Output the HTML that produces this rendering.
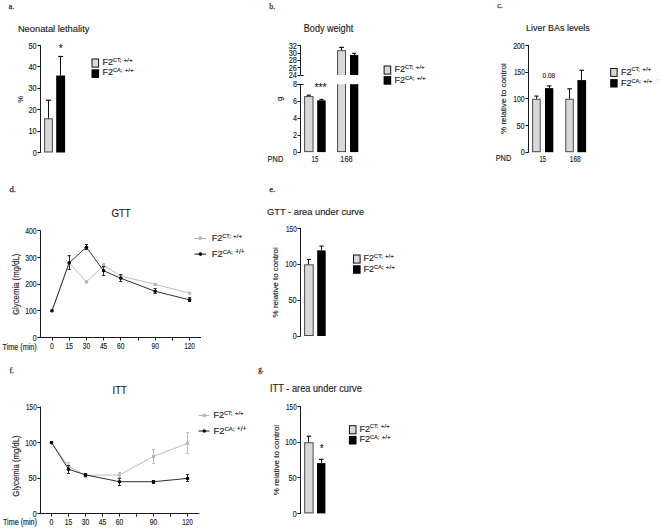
<!DOCTYPE html>
<html><head><meta charset="utf-8"><style>
html,body{margin:0;padding:0;background:#fff;}
svg{display:block;font-family:"Liberation Sans",sans-serif;}
text{stroke:#1e1e1e;stroke-width:0.15px;}
</style></head><body>
<svg width="660" height="529" viewBox="0 0 660 529" fill="#1e1e1e">
<rect width="660" height="529" fill="#fff"/>
<text x="8.80" y="8.60" font-size="9.0" textLength="5.5" lengthAdjust="spacingAndGlyphs" font-family="Liberation Serif" style="stroke-width:0.25px">a.</text>
<text x="17.90" y="31.80" font-size="9.6" textLength="71.5" lengthAdjust="spacingAndGlyphs" >Neonatal lethality</text>
<line x1="40.50" y1="45.10" x2="40.50" y2="153.00" stroke="#1a1a1a" stroke-width="1"/>
<line x1="37.30" y1="152.50" x2="40.50" y2="152.50" stroke="#1a1a1a" stroke-width="1"/>
<text x="36.70" y="155.60" font-size="8.6" text-anchor="end" textLength="4.0" lengthAdjust="spacingAndGlyphs" >0</text>
<line x1="37.30" y1="131.50" x2="40.50" y2="131.50" stroke="#1a1a1a" stroke-width="1"/>
<text x="36.70" y="134.22" font-size="8.6" text-anchor="end" textLength="8.2" lengthAdjust="spacingAndGlyphs" >10</text>
<line x1="37.30" y1="109.50" x2="40.50" y2="109.50" stroke="#1a1a1a" stroke-width="1"/>
<text x="36.70" y="112.84" font-size="8.6" text-anchor="end" textLength="8.2" lengthAdjust="spacingAndGlyphs" >20</text>
<line x1="37.30" y1="88.50" x2="40.50" y2="88.50" stroke="#1a1a1a" stroke-width="1"/>
<text x="36.70" y="91.46" font-size="8.6" text-anchor="end" textLength="8.2" lengthAdjust="spacingAndGlyphs" >30</text>
<line x1="37.30" y1="66.50" x2="40.50" y2="66.50" stroke="#1a1a1a" stroke-width="1"/>
<text x="36.70" y="70.08" font-size="8.6" text-anchor="end" textLength="8.2" lengthAdjust="spacingAndGlyphs" >40</text>
<line x1="37.30" y1="45.50" x2="40.50" y2="45.50" stroke="#1a1a1a" stroke-width="1"/>
<text x="36.70" y="48.70" font-size="8.6" text-anchor="end" textLength="8.2" lengthAdjust="spacingAndGlyphs" >50</text>
<rect x="44.60" y="118.79" width="7.80" height="33.21" fill="#d9d9d9" stroke="#4a4a4a" stroke-width="1"/>
<line x1="48.50" y1="100.20" x2="48.50" y2="118.29" stroke="#111" stroke-width="1"/>
<line x1="46.00" y1="100.20" x2="51.00" y2="100.20" stroke="#111" stroke-width="1.2"/>
<rect x="56.20" y="75.53" width="8.90" height="76.97" fill="#000"/>
<line x1="60.50" y1="56.50" x2="60.50" y2="75.53" stroke="#111" stroke-width="1"/>
<line x1="58.15" y1="56.50" x2="63.15" y2="56.50" stroke="#111" stroke-width="1.2"/>
<text x="60.60" y="51.50" font-size="10" text-anchor="middle" >*</text>
<text x="22.60" y="99.50" font-size="7.5" text-anchor="middle" transform="rotate(-90 22.60 99.50)" >%</text>
<rect x="92.00" y="59.00" width="6.60" height="8.10" fill="#d9d9d9" stroke="#111" stroke-width="1"/>
<rect x="91.50" y="69.30" width="7.60" height="8.60" fill="#000"/>
<text x="102.40" y="64.90" font-size="9.0">F2<tspan dy="-3.2" font-size="5.6">CT;</tspan><tspan dx="2.4" font-size="6.16">+/+</tspan></text>
<text x="102.40" y="75.40" font-size="9.0">F2<tspan dy="-3.2" font-size="5.6">CA;</tspan><tspan dx="2.4" font-size="6.16">+/+</tspan></text>
<text x="269.20" y="8.60" font-size="9.0" textLength="6.0" lengthAdjust="spacingAndGlyphs" font-family="Liberation Serif" style="stroke-width:0.25px">b.</text>
<text x="303.80" y="31.80" font-size="10.2" textLength="49.4" lengthAdjust="spacingAndGlyphs" >Body weight</text>
<line x1="300.50" y1="45.20" x2="300.50" y2="75.00" stroke="#1a1a1a" stroke-width="1"/>
<line x1="297.50" y1="75.50" x2="300.50" y2="75.50" stroke="#1a1a1a" stroke-width="1"/>
<text x="296.90" y="78.00" font-size="8.6" text-anchor="end" textLength="8.2" lengthAdjust="spacingAndGlyphs" >24</text>
<line x1="297.50" y1="67.50" x2="300.50" y2="67.50" stroke="#1a1a1a" stroke-width="1"/>
<text x="296.90" y="70.67" font-size="8.6" text-anchor="end" textLength="8.2" lengthAdjust="spacingAndGlyphs" >26</text>
<line x1="297.50" y1="60.50" x2="300.50" y2="60.50" stroke="#1a1a1a" stroke-width="1"/>
<text x="296.90" y="63.35" font-size="8.6" text-anchor="end" textLength="8.2" lengthAdjust="spacingAndGlyphs" >28</text>
<line x1="297.50" y1="53.50" x2="300.50" y2="53.50" stroke="#1a1a1a" stroke-width="1"/>
<text x="296.90" y="56.03" font-size="8.6" text-anchor="end" textLength="8.2" lengthAdjust="spacingAndGlyphs" >30</text>
<line x1="297.50" y1="45.50" x2="300.50" y2="45.50" stroke="#1a1a1a" stroke-width="1"/>
<text x="296.90" y="48.70" font-size="8.6" text-anchor="end" textLength="8.2" lengthAdjust="spacingAndGlyphs" >32</text>
<line x1="300.50" y1="75.50" x2="303.70" y2="75.50" stroke="#1a1a1a" stroke-width="1"/>
<line x1="300.50" y1="84.20" x2="300.50" y2="152.60" stroke="#1a1a1a" stroke-width="1"/>
<line x1="297.50" y1="84.50" x2="303.70" y2="84.50" stroke="#1a1a1a" stroke-width="1"/>
<line x1="297.50" y1="152.50" x2="300.50" y2="152.50" stroke="#1a1a1a" stroke-width="1"/>
<text x="296.90" y="155.10" font-size="8.6" text-anchor="end" textLength="4.0" lengthAdjust="spacingAndGlyphs" >0</text>
<line x1="297.50" y1="135.50" x2="300.50" y2="135.50" stroke="#1a1a1a" stroke-width="1"/>
<text x="296.90" y="138.12" font-size="8.6" text-anchor="end" textLength="4.0" lengthAdjust="spacingAndGlyphs" >2</text>
<line x1="297.50" y1="118.50" x2="300.50" y2="118.50" stroke="#1a1a1a" stroke-width="1"/>
<text x="296.90" y="121.15" font-size="8.6" text-anchor="end" textLength="4.0" lengthAdjust="spacingAndGlyphs" >4</text>
<line x1="297.50" y1="101.50" x2="300.50" y2="101.50" stroke="#1a1a1a" stroke-width="1"/>
<text x="296.90" y="104.17" font-size="8.6" text-anchor="end" textLength="4.0" lengthAdjust="spacingAndGlyphs" >6</text>
<line x1="297.50" y1="84.50" x2="300.50" y2="84.50" stroke="#1a1a1a" stroke-width="1"/>
<text x="296.90" y="87.20" font-size="8.6" text-anchor="end" textLength="4.0" lengthAdjust="spacingAndGlyphs" >8</text>
<rect x="304.60" y="96.58" width="8.40" height="55.02" fill="#d9d9d9" stroke="#4a4a4a" stroke-width="1"/>
<line x1="308.50" y1="95.23" x2="308.50" y2="96.08" stroke="#111" stroke-width="1"/>
<line x1="306.80" y1="95.23" x2="310.80" y2="95.23" stroke="#111" stroke-width="1.2"/>
<rect x="317.20" y="100.33" width="8.50" height="51.77" fill="#000"/>
<line x1="321.50" y1="99.48" x2="321.50" y2="100.33" stroke="#111" stroke-width="1"/>
<line x1="319.45" y1="99.48" x2="323.45" y2="99.48" stroke="#111" stroke-width="1.2"/>
<rect x="337.60" y="50.70" width="7.90" height="100.90" fill="#d9d9d9" stroke="#4a4a4a" stroke-width="1"/>
<line x1="341.50" y1="47.40" x2="341.50" y2="50.20" stroke="#111" stroke-width="1"/>
<line x1="339.20" y1="47.40" x2="343.90" y2="47.40" stroke="#111" stroke-width="1.2"/>
<rect x="350.00" y="54.90" width="8.30" height="97.20" fill="#000"/>
<line x1="354.50" y1="53.30" x2="354.50" y2="54.90" stroke="#111" stroke-width="1"/>
<line x1="352.15" y1="53.30" x2="356.15" y2="53.30" stroke="#111" stroke-width="1.2"/>
<rect x="336.00" y="75.00" width="24.00" height="9.20" fill="#fff"/>
<text x="320.60" y="90.50" font-size="10" text-anchor="middle" textLength="12" lengthAdjust="spacingAndGlyphs" >***</text>
<text x="281.50" y="99.00" font-size="7.5" text-anchor="middle" transform="rotate(-90 281.50 99.00)" >g</text>
<text x="267.60" y="161.80" font-size="8.2" textLength="15.7" lengthAdjust="spacingAndGlyphs" >PND</text>
<text x="315.00" y="161.80" font-size="8.2" text-anchor="middle" textLength="7" lengthAdjust="spacingAndGlyphs" >15</text>
<text x="346.50" y="161.80" font-size="8.2" text-anchor="middle" textLength="12.3" lengthAdjust="spacingAndGlyphs" >168</text>
<rect x="384.10" y="66.00" width="6.60" height="8.10" fill="#d9d9d9" stroke="#111" stroke-width="1"/>
<rect x="383.60" y="76.10" width="7.60" height="8.60" fill="#000"/>
<text x="394.50" y="71.80" font-size="9.0">F2<tspan dy="-3.2" font-size="5.6">CT;</tspan><tspan dx="2.4" font-size="6.16">+/+</tspan></text>
<text x="394.50" y="82.70" font-size="9.0">F2<tspan dy="-3.2" font-size="5.6">CA;</tspan><tspan dx="2.4" font-size="6.16">+/+</tspan></text>
<text x="497.30" y="8.30" font-size="9.0" textLength="5.5" lengthAdjust="spacingAndGlyphs" font-family="Liberation Serif" style="stroke-width:0.25px">c.</text>
<text x="526.10" y="31.40" font-size="9.3" textLength="63.7" lengthAdjust="spacingAndGlyphs" >Liver BAs levels</text>
<line x1="528.50" y1="44.90" x2="528.50" y2="152.70" stroke="#1a1a1a" stroke-width="1"/>
<line x1="525.30" y1="152.50" x2="528.50" y2="152.50" stroke="#1a1a1a" stroke-width="1"/>
<text x="524.70" y="155.30" font-size="8.6" text-anchor="end" textLength="4.0" lengthAdjust="spacingAndGlyphs" >0</text>
<line x1="525.30" y1="125.50" x2="528.50" y2="125.50" stroke="#1a1a1a" stroke-width="1"/>
<text x="524.70" y="128.60" font-size="8.6" text-anchor="end" textLength="8.2" lengthAdjust="spacingAndGlyphs" >50</text>
<line x1="525.30" y1="98.50" x2="528.50" y2="98.50" stroke="#1a1a1a" stroke-width="1"/>
<text x="524.70" y="101.90" font-size="8.6" text-anchor="end" textLength="11.5" lengthAdjust="spacingAndGlyphs" >100</text>
<line x1="525.30" y1="72.50" x2="528.50" y2="72.50" stroke="#1a1a1a" stroke-width="1"/>
<text x="524.70" y="75.20" font-size="8.6" text-anchor="end" textLength="10.7" lengthAdjust="spacingAndGlyphs" >150</text>
<line x1="525.30" y1="45.50" x2="528.50" y2="45.50" stroke="#1a1a1a" stroke-width="1"/>
<text x="524.70" y="48.50" font-size="8.6" text-anchor="end" textLength="11.5" lengthAdjust="spacingAndGlyphs" >200</text>
<rect x="532.60" y="99.30" width="7.60" height="52.40" fill="#d9d9d9" stroke="#4a4a4a" stroke-width="1"/>
<line x1="536.50" y1="96.10" x2="536.50" y2="98.80" stroke="#111" stroke-width="1"/>
<line x1="534.40" y1="96.10" x2="538.40" y2="96.10" stroke="#111" stroke-width="1.2"/>
<rect x="545.00" y="88.12" width="8.30" height="64.08" fill="#000"/>
<line x1="549.50" y1="85.90" x2="549.50" y2="88.12" stroke="#111" stroke-width="1"/>
<line x1="546.90" y1="85.90" x2="551.40" y2="85.90" stroke="#111" stroke-width="1.2"/>
<rect x="565.80" y="99.30" width="7.50" height="52.40" fill="#d9d9d9" stroke="#4a4a4a" stroke-width="1"/>
<line x1="569.50" y1="88.80" x2="569.50" y2="98.80" stroke="#111" stroke-width="1"/>
<line x1="567.30" y1="88.80" x2="571.80" y2="88.80" stroke="#111" stroke-width="1.2"/>
<rect x="577.40" y="80.11" width="8.70" height="72.09" fill="#000"/>
<line x1="581.50" y1="70.30" x2="581.50" y2="80.11" stroke="#111" stroke-width="1"/>
<line x1="579.50" y1="70.30" x2="584.00" y2="70.30" stroke="#111" stroke-width="1.2"/>
<text x="548.80" y="78.20" font-size="7.4" text-anchor="middle" textLength="12.4" lengthAdjust="spacingAndGlyphs" >0.08</text>
<text x="495.70" y="161.40" font-size="8.2" textLength="15.5" lengthAdjust="spacingAndGlyphs" >PND</text>
<text x="542.70" y="161.60" font-size="8.2" text-anchor="middle" textLength="6.6" lengthAdjust="spacingAndGlyphs" >15</text>
<text x="575.30" y="161.60" font-size="8.2" text-anchor="middle" textLength="11" lengthAdjust="spacingAndGlyphs" >168</text>
<text x="505.80" y="98.60" font-size="7.8" text-anchor="middle" textLength="70.8" lengthAdjust="spacingAndGlyphs" transform="rotate(-90 505.80 98.60)" >% relative to control</text>
<rect x="610.70" y="68.50" width="6.40" height="7.90" fill="#d9d9d9" stroke="#111" stroke-width="1"/>
<rect x="610.20" y="79.10" width="7.40" height="8.40" fill="#000"/>
<text x="621.00" y="74.50" font-size="9.0">F2<tspan dy="-3.2" font-size="5.6">CT;</tspan><tspan dx="2.4" font-size="6.16">+/+</tspan></text>
<text x="621.00" y="85.70" font-size="9.0">F2<tspan dy="-3.2" font-size="5.6">CA;</tspan><tspan dx="2.4" font-size="6.16">+/+</tspan></text>
<rect x="657.20" y="79.30" width="1.00" height="1.00" fill="#888"/>
<text x="9.50" y="192.10" font-size="9.0" textLength="6.5" lengthAdjust="spacingAndGlyphs" font-family="Liberation Serif" style="stroke-width:0.25px">d.</text>
<text x="111.40" y="216.90" font-size="10.8" textLength="19.3" lengthAdjust="spacingAndGlyphs" >GTT</text>
<line x1="40.50" y1="230.20" x2="40.50" y2="338.00" stroke="#1a1a1a" stroke-width="1"/>
<line x1="37.30" y1="337.50" x2="40.50" y2="337.50" stroke="#1a1a1a" stroke-width="1"/>
<text x="36.70" y="340.60" font-size="8.6" text-anchor="end" textLength="4.0" lengthAdjust="spacingAndGlyphs" >0</text>
<line x1="37.30" y1="310.50" x2="40.50" y2="310.50" stroke="#1a1a1a" stroke-width="1"/>
<text x="36.70" y="313.90" font-size="8.6" text-anchor="end" textLength="11.5" lengthAdjust="spacingAndGlyphs" >100</text>
<line x1="37.30" y1="284.50" x2="40.50" y2="284.50" stroke="#1a1a1a" stroke-width="1"/>
<text x="36.70" y="287.20" font-size="8.6" text-anchor="end" textLength="11.5" lengthAdjust="spacingAndGlyphs" >200</text>
<line x1="37.30" y1="257.50" x2="40.50" y2="257.50" stroke="#1a1a1a" stroke-width="1"/>
<text x="36.70" y="260.50" font-size="8.6" text-anchor="end" textLength="11.5" lengthAdjust="spacingAndGlyphs" >300</text>
<line x1="37.30" y1="230.50" x2="40.50" y2="230.50" stroke="#1a1a1a" stroke-width="1"/>
<text x="36.70" y="233.80" font-size="8.6" text-anchor="end" textLength="11.5" lengthAdjust="spacingAndGlyphs" >400</text>
<line x1="40.00" y1="337.50" x2="201.00" y2="337.50" stroke="#1a1a1a" stroke-width="1"/>
<line x1="52.50" y1="337.50" x2="52.50" y2="340.50" stroke="#1a1a1a" stroke-width="1"/>
<line x1="69.50" y1="337.50" x2="69.50" y2="340.50" stroke="#1a1a1a" stroke-width="1"/>
<line x1="86.50" y1="337.50" x2="86.50" y2="340.50" stroke="#1a1a1a" stroke-width="1"/>
<line x1="103.50" y1="337.50" x2="103.50" y2="340.50" stroke="#1a1a1a" stroke-width="1"/>
<line x1="120.50" y1="337.50" x2="120.50" y2="340.50" stroke="#1a1a1a" stroke-width="1"/>
<line x1="138.50" y1="337.50" x2="138.50" y2="340.50" stroke="#1a1a1a" stroke-width="1"/>
<line x1="155.50" y1="337.50" x2="155.50" y2="340.50" stroke="#1a1a1a" stroke-width="1"/>
<line x1="172.50" y1="337.50" x2="172.50" y2="340.50" stroke="#1a1a1a" stroke-width="1"/>
<line x1="189.50" y1="337.50" x2="189.50" y2="340.50" stroke="#1a1a1a" stroke-width="1"/>
<text x="52.00" y="349.40" font-size="8.6" text-anchor="middle" textLength="3.8" lengthAdjust="spacingAndGlyphs" >0</text>
<text x="69.20" y="349.40" font-size="8.6" text-anchor="middle" textLength="7.4" lengthAdjust="spacingAndGlyphs" >15</text>
<text x="86.40" y="349.40" font-size="8.6" text-anchor="middle" textLength="7.4" lengthAdjust="spacingAndGlyphs" >30</text>
<text x="103.60" y="349.40" font-size="8.6" text-anchor="middle" textLength="7.4" lengthAdjust="spacingAndGlyphs" >45</text>
<text x="120.80" y="349.40" font-size="8.6" text-anchor="middle" textLength="7.4" lengthAdjust="spacingAndGlyphs" >60</text>
<text x="155.20" y="349.40" font-size="8.6" text-anchor="middle" textLength="7.4" lengthAdjust="spacingAndGlyphs" >90</text>
<text x="189.60" y="349.40" font-size="8.6" text-anchor="middle" textLength="10.6" lengthAdjust="spacingAndGlyphs" >120</text>
<text x="2.50" y="349.60" font-size="8.6" textLength="34.2" lengthAdjust="spacingAndGlyphs" >Time (min)</text>
<text x="18.70" y="284.30" font-size="8.4" text-anchor="middle" textLength="61.3" lengthAdjust="spacingAndGlyphs" transform="rotate(-90 18.70 284.30)" >Glycemia (mg/dL)</text>
<polyline points="52.00,310.80 69.20,262.47 86.40,281.96 103.60,265.41 120.80,276.09 155.20,284.37 189.60,293.18" fill="none" stroke="#bcbcbc" stroke-width="1"/>
<line x1="69.50" y1="256.60" x2="69.50" y2="269.42" stroke="#bcbcbc" stroke-width="1"/>
<line x1="67.60" y1="256.50" x2="70.80" y2="256.50" stroke="#bcbcbc" stroke-width="1"/>
<line x1="67.60" y1="269.50" x2="70.80" y2="269.50" stroke="#bcbcbc" stroke-width="1"/>
<line x1="86.50" y1="281.16" x2="86.50" y2="282.76" stroke="#bcbcbc" stroke-width="1"/>
<line x1="84.80" y1="281.50" x2="88.00" y2="281.50" stroke="#bcbcbc" stroke-width="1"/>
<line x1="84.80" y1="282.50" x2="88.00" y2="282.50" stroke="#bcbcbc" stroke-width="1"/>
<line x1="103.50" y1="263.81" x2="103.50" y2="267.01" stroke="#bcbcbc" stroke-width="1"/>
<line x1="102.00" y1="263.50" x2="105.20" y2="263.50" stroke="#bcbcbc" stroke-width="1"/>
<line x1="102.00" y1="267.50" x2="105.20" y2="267.50" stroke="#bcbcbc" stroke-width="1"/>
<line x1="120.50" y1="275.02" x2="120.50" y2="277.16" stroke="#bcbcbc" stroke-width="1"/>
<line x1="119.20" y1="275.50" x2="122.40" y2="275.50" stroke="#bcbcbc" stroke-width="1"/>
<line x1="119.20" y1="277.50" x2="122.40" y2="277.50" stroke="#bcbcbc" stroke-width="1"/>
<line x1="155.50" y1="283.57" x2="155.50" y2="285.17" stroke="#bcbcbc" stroke-width="1"/>
<line x1="153.60" y1="283.50" x2="156.80" y2="283.50" stroke="#bcbcbc" stroke-width="1"/>
<line x1="153.60" y1="285.50" x2="156.80" y2="285.50" stroke="#bcbcbc" stroke-width="1"/>
<line x1="189.50" y1="292.38" x2="189.50" y2="293.98" stroke="#bcbcbc" stroke-width="1"/>
<line x1="188.00" y1="292.50" x2="191.20" y2="292.50" stroke="#bcbcbc" stroke-width="1"/>
<line x1="188.00" y1="293.50" x2="191.20" y2="293.50" stroke="#bcbcbc" stroke-width="1"/>
<rect x="50.40" y="309.20" width="3.2" height="3.2" fill="#b8b8b8"/>
<rect x="67.60" y="260.87" width="3.2" height="3.2" fill="#b8b8b8"/>
<rect x="84.80" y="280.36" width="3.2" height="3.2" fill="#b8b8b8"/>
<rect x="102.00" y="263.81" width="3.2" height="3.2" fill="#b8b8b8"/>
<rect x="119.20" y="274.49" width="3.2" height="3.2" fill="#b8b8b8"/>
<rect x="153.60" y="282.77" width="3.2" height="3.2" fill="#b8b8b8"/>
<rect x="188.00" y="291.58" width="3.2" height="3.2" fill="#b8b8b8"/>
<polyline points="52.00,310.80 69.20,262.74 86.40,247.25 103.60,270.75 120.80,278.23 155.20,291.31 189.60,299.85" fill="none" stroke="#303030" stroke-width="1.0"/>
<line x1="69.50" y1="255.80" x2="69.50" y2="269.68" stroke="#303030" stroke-width="1"/>
<line x1="67.60" y1="255.50" x2="70.80" y2="255.50" stroke="#303030" stroke-width="1"/>
<line x1="67.60" y1="269.50" x2="70.80" y2="269.50" stroke="#303030" stroke-width="1"/>
<line x1="86.50" y1="244.32" x2="86.50" y2="249.66" stroke="#303030" stroke-width="1"/>
<line x1="84.80" y1="244.50" x2="88.00" y2="244.50" stroke="#303030" stroke-width="1"/>
<line x1="84.80" y1="249.50" x2="88.00" y2="249.50" stroke="#303030" stroke-width="1"/>
<line x1="103.50" y1="266.48" x2="103.50" y2="275.02" stroke="#303030" stroke-width="1"/>
<line x1="102.00" y1="266.50" x2="105.20" y2="266.50" stroke="#303030" stroke-width="1"/>
<line x1="102.00" y1="275.50" x2="105.20" y2="275.50" stroke="#303030" stroke-width="1"/>
<line x1="120.50" y1="274.75" x2="120.50" y2="281.70" stroke="#303030" stroke-width="1"/>
<line x1="119.20" y1="274.50" x2="122.40" y2="274.50" stroke="#303030" stroke-width="1"/>
<line x1="119.20" y1="281.50" x2="122.40" y2="281.50" stroke="#303030" stroke-width="1"/>
<line x1="155.50" y1="288.91" x2="155.50" y2="293.71" stroke="#303030" stroke-width="1"/>
<line x1="153.60" y1="288.50" x2="156.80" y2="288.50" stroke="#303030" stroke-width="1"/>
<line x1="153.60" y1="293.50" x2="156.80" y2="293.50" stroke="#303030" stroke-width="1"/>
<line x1="189.50" y1="297.72" x2="189.50" y2="301.99" stroke="#303030" stroke-width="1"/>
<line x1="188.00" y1="297.50" x2="191.20" y2="297.50" stroke="#303030" stroke-width="1"/>
<line x1="188.00" y1="301.50" x2="191.20" y2="301.50" stroke="#303030" stroke-width="1"/>
<circle cx="52.00" cy="310.80" r="1.8" fill="#000"/>
<circle cx="69.20" cy="262.74" r="1.8" fill="#000"/>
<circle cx="86.40" cy="247.25" r="1.8" fill="#000"/>
<circle cx="103.60" cy="270.75" r="1.8" fill="#000"/>
<circle cx="120.80" cy="278.23" r="1.8" fill="#000"/>
<circle cx="155.20" cy="291.31" r="1.8" fill="#000"/>
<circle cx="189.60" cy="299.85" r="1.8" fill="#000"/>
<line x1="194.50" y1="238.50" x2="206.10" y2="238.50" stroke="#b4b4b4" stroke-width="1"/>
<rect x="198.60" y="236.50" width="3.2" height="3.2" fill="#b8b8b8"/>
<line x1="194.50" y1="254.10" x2="206.10" y2="254.10" stroke="#2a2a2a" stroke-width="1.1"/>
<circle cx="200.40" cy="254.10" r="1.8" fill="#000"/>
<text x="211.80" y="241.30" font-size="9.0">F2<tspan dy="-3.2" font-size="5.6">CT;</tspan><tspan dx="2.4" font-size="6.16">+/+</tspan></text>
<text x="211.80" y="257.00" font-size="9.4">F2<tspan dy="-3.2" font-size="6">CA;</tspan><tspan dx="2.4" font-size="6.60">+/+</tspan></text>
<text x="269.20" y="192.30" font-size="9.0" textLength="6.0" lengthAdjust="spacingAndGlyphs" font-family="Liberation Serif" style="stroke-width:0.25px">e.</text>
<text x="267.00" y="215.00" font-size="9.8" textLength="97.2" lengthAdjust="spacingAndGlyphs" >GTT - area under curve</text>
<line x1="300.50" y1="228.00" x2="300.50" y2="336.50" stroke="#1a1a1a" stroke-width="1"/>
<line x1="297.30" y1="336.50" x2="300.50" y2="336.50" stroke="#1a1a1a" stroke-width="1"/>
<text x="296.70" y="339.10" font-size="8.6" text-anchor="end" textLength="4.0" lengthAdjust="spacingAndGlyphs" >0</text>
<line x1="297.30" y1="300.50" x2="300.50" y2="300.50" stroke="#1a1a1a" stroke-width="1"/>
<text x="296.70" y="303.27" font-size="8.6" text-anchor="end" textLength="8.2" lengthAdjust="spacingAndGlyphs" >50</text>
<line x1="297.30" y1="264.50" x2="300.50" y2="264.50" stroke="#1a1a1a" stroke-width="1"/>
<text x="296.70" y="267.43" font-size="8.6" text-anchor="end" textLength="11.5" lengthAdjust="spacingAndGlyphs" >100</text>
<line x1="297.30" y1="228.50" x2="300.50" y2="228.50" stroke="#1a1a1a" stroke-width="1"/>
<text x="296.70" y="231.60" font-size="8.6" text-anchor="end" textLength="10.7" lengthAdjust="spacingAndGlyphs" >150</text>
<rect x="304.60" y="264.83" width="8.60" height="70.67" fill="#d9d9d9" stroke="#4a4a4a" stroke-width="1"/>
<line x1="308.50" y1="259.50" x2="308.50" y2="264.33" stroke="#111" stroke-width="1"/>
<line x1="306.90" y1="259.50" x2="310.90" y2="259.50" stroke="#111" stroke-width="1.2"/>
<rect x="317.20" y="250.36" width="8.50" height="85.64" fill="#000"/>
<line x1="321.50" y1="246.10" x2="321.50" y2="250.36" stroke="#111" stroke-width="1"/>
<line x1="319.45" y1="246.10" x2="323.45" y2="246.10" stroke="#111" stroke-width="1.2"/>
<text x="278.50" y="282.30" font-size="7.8" text-anchor="middle" textLength="70.3" lengthAdjust="spacingAndGlyphs" transform="rotate(-90 278.50 282.30)" >% relative to control</text>
<rect x="353.50" y="255.00" width="6.60" height="8.10" fill="#d9d9d9" stroke="#111" stroke-width="1"/>
<rect x="353.00" y="265.20" width="7.60" height="8.60" fill="#000"/>
<text x="363.60" y="260.80" font-size="9.0">F2<tspan dy="-3.2" font-size="5.6">CT;</tspan><tspan dx="2.4" font-size="6.16">+/+</tspan></text>
<text x="363.60" y="272.20" font-size="9.0">F2<tspan dy="-3.2" font-size="5.6">CA;</tspan><tspan dx="2.4" font-size="6.16">+/+</tspan></text>
<text x="9.50" y="373.30" font-size="9.0" textLength="4.5" lengthAdjust="spacingAndGlyphs" font-family="Liberation Serif" style="stroke-width:0.25px">f.</text>
<text x="112.50" y="393.90" font-size="10.0" textLength="14.3" lengthAdjust="spacingAndGlyphs" >ITT</text>
<line x1="40.50" y1="406.55" x2="40.50" y2="514.20" stroke="#1a1a1a" stroke-width="1"/>
<line x1="37.30" y1="513.50" x2="40.50" y2="513.50" stroke="#1a1a1a" stroke-width="1"/>
<text x="36.70" y="516.80" font-size="8.6" text-anchor="end" textLength="4.0" lengthAdjust="spacingAndGlyphs" >0</text>
<line x1="37.30" y1="478.50" x2="40.50" y2="478.50" stroke="#1a1a1a" stroke-width="1"/>
<text x="36.70" y="481.25" font-size="8.6" text-anchor="end" textLength="8.2" lengthAdjust="spacingAndGlyphs" >50</text>
<line x1="37.30" y1="442.50" x2="40.50" y2="442.50" stroke="#1a1a1a" stroke-width="1"/>
<text x="36.70" y="445.70" font-size="8.6" text-anchor="end" textLength="11.5" lengthAdjust="spacingAndGlyphs" >100</text>
<line x1="37.30" y1="407.50" x2="40.50" y2="407.50" stroke="#1a1a1a" stroke-width="1"/>
<text x="36.70" y="410.15" font-size="8.6" text-anchor="end" textLength="10.7" lengthAdjust="spacingAndGlyphs" >150</text>
<line x1="40.00" y1="513.50" x2="199.20" y2="513.50" stroke="#1a1a1a" stroke-width="1"/>
<line x1="51.50" y1="513.70" x2="51.50" y2="516.70" stroke="#1a1a1a" stroke-width="1"/>
<line x1="68.50" y1="513.70" x2="68.50" y2="516.70" stroke="#1a1a1a" stroke-width="1"/>
<line x1="85.50" y1="513.70" x2="85.50" y2="516.70" stroke="#1a1a1a" stroke-width="1"/>
<line x1="102.50" y1="513.70" x2="102.50" y2="516.70" stroke="#1a1a1a" stroke-width="1"/>
<line x1="119.50" y1="513.70" x2="119.50" y2="516.70" stroke="#1a1a1a" stroke-width="1"/>
<line x1="136.50" y1="513.70" x2="136.50" y2="516.70" stroke="#1a1a1a" stroke-width="1"/>
<line x1="153.50" y1="513.70" x2="153.50" y2="516.70" stroke="#1a1a1a" stroke-width="1"/>
<line x1="170.50" y1="513.70" x2="170.50" y2="516.70" stroke="#1a1a1a" stroke-width="1"/>
<line x1="187.50" y1="513.70" x2="187.50" y2="516.70" stroke="#1a1a1a" stroke-width="1"/>
<text x="51.50" y="525.00" font-size="8.6" text-anchor="middle" textLength="3.8" lengthAdjust="spacingAndGlyphs" >0</text>
<text x="68.50" y="525.00" font-size="8.6" text-anchor="middle" textLength="7.4" lengthAdjust="spacingAndGlyphs" >15</text>
<text x="85.50" y="525.00" font-size="8.6" text-anchor="middle" textLength="7.4" lengthAdjust="spacingAndGlyphs" >30</text>
<text x="102.50" y="525.00" font-size="8.6" text-anchor="middle" textLength="7.4" lengthAdjust="spacingAndGlyphs" >45</text>
<text x="119.50" y="525.00" font-size="8.6" text-anchor="middle" textLength="7.4" lengthAdjust="spacingAndGlyphs" >60</text>
<text x="153.50" y="525.00" font-size="8.6" text-anchor="middle" textLength="7.4" lengthAdjust="spacingAndGlyphs" >90</text>
<text x="187.50" y="525.00" font-size="8.6" text-anchor="middle" textLength="10.6" lengthAdjust="spacingAndGlyphs" >120</text>
<text x="3.00" y="525.40" font-size="8.6" textLength="34" lengthAdjust="spacingAndGlyphs" >Time (min)</text>
<text x="18.70" y="466.00" font-size="8.4" text-anchor="middle" textLength="61.3" lengthAdjust="spacingAndGlyphs" transform="rotate(-90 18.70 466.00)" >Glycemia (mg/dL)</text>
<polyline points="51.50,442.60 68.50,466.42 85.50,475.31 119.50,474.95 153.50,456.46 187.50,443.31" fill="none" stroke="#bcbcbc" stroke-width="1"/>
<line x1="68.50" y1="462.86" x2="68.50" y2="469.26" stroke="#bcbcbc" stroke-width="1"/>
<line x1="66.90" y1="462.50" x2="70.10" y2="462.50" stroke="#bcbcbc" stroke-width="1"/>
<line x1="66.90" y1="469.50" x2="70.10" y2="469.50" stroke="#bcbcbc" stroke-width="1"/>
<line x1="85.50" y1="473.17" x2="85.50" y2="477.44" stroke="#bcbcbc" stroke-width="1"/>
<line x1="83.90" y1="473.50" x2="87.10" y2="473.50" stroke="#bcbcbc" stroke-width="1"/>
<line x1="83.90" y1="477.50" x2="87.10" y2="477.50" stroke="#bcbcbc" stroke-width="1"/>
<line x1="119.50" y1="472.11" x2="119.50" y2="477.08" stroke="#bcbcbc" stroke-width="1"/>
<line x1="117.90" y1="472.50" x2="121.10" y2="472.50" stroke="#bcbcbc" stroke-width="1"/>
<line x1="117.90" y1="477.50" x2="121.10" y2="477.50" stroke="#bcbcbc" stroke-width="1"/>
<line x1="153.50" y1="449.35" x2="153.50" y2="463.57" stroke="#bcbcbc" stroke-width="1"/>
<line x1="151.90" y1="449.50" x2="155.10" y2="449.50" stroke="#bcbcbc" stroke-width="1"/>
<line x1="151.90" y1="463.50" x2="155.10" y2="463.50" stroke="#bcbcbc" stroke-width="1"/>
<line x1="187.50" y1="432.65" x2="187.50" y2="453.98" stroke="#bcbcbc" stroke-width="1"/>
<line x1="185.90" y1="432.50" x2="189.10" y2="432.50" stroke="#bcbcbc" stroke-width="1"/>
<line x1="185.90" y1="453.50" x2="189.10" y2="453.50" stroke="#bcbcbc" stroke-width="1"/>
<rect x="49.90" y="441.00" width="3.2" height="3.2" fill="#b8b8b8"/>
<rect x="66.90" y="464.82" width="3.2" height="3.2" fill="#b8b8b8"/>
<rect x="83.90" y="473.71" width="3.2" height="3.2" fill="#b8b8b8"/>
<rect x="117.90" y="473.35" width="3.2" height="3.2" fill="#b8b8b8"/>
<rect x="151.90" y="454.86" width="3.2" height="3.2" fill="#b8b8b8"/>
<rect x="185.90" y="441.71" width="3.2" height="3.2" fill="#b8b8b8"/>
<polyline points="51.50,442.60 68.50,469.26 85.50,474.88 119.50,481.71 153.50,481.71 187.50,478.43" fill="none" stroke="#303030" stroke-width="1.0"/>
<line x1="68.50" y1="465.71" x2="68.50" y2="473.53" stroke="#303030" stroke-width="1"/>
<line x1="66.90" y1="465.50" x2="70.10" y2="465.50" stroke="#303030" stroke-width="1"/>
<line x1="66.90" y1="473.50" x2="70.10" y2="473.50" stroke="#303030" stroke-width="1"/>
<line x1="85.50" y1="473.46" x2="85.50" y2="476.30" stroke="#303030" stroke-width="1"/>
<line x1="83.90" y1="473.50" x2="87.10" y2="473.50" stroke="#303030" stroke-width="1"/>
<line x1="83.90" y1="476.50" x2="87.10" y2="476.50" stroke="#303030" stroke-width="1"/>
<line x1="119.50" y1="478.15" x2="119.50" y2="485.26" stroke="#303030" stroke-width="1"/>
<line x1="117.90" y1="478.50" x2="121.10" y2="478.50" stroke="#303030" stroke-width="1"/>
<line x1="117.90" y1="485.50" x2="121.10" y2="485.50" stroke="#303030" stroke-width="1"/>
<line x1="153.50" y1="480.28" x2="153.50" y2="483.13" stroke="#303030" stroke-width="1"/>
<line x1="151.90" y1="480.50" x2="155.10" y2="480.50" stroke="#303030" stroke-width="1"/>
<line x1="151.90" y1="483.50" x2="155.10" y2="483.50" stroke="#303030" stroke-width="1"/>
<line x1="187.50" y1="474.88" x2="187.50" y2="481.99" stroke="#303030" stroke-width="1"/>
<line x1="185.90" y1="474.50" x2="189.10" y2="474.50" stroke="#303030" stroke-width="1"/>
<line x1="185.90" y1="481.50" x2="189.10" y2="481.50" stroke="#303030" stroke-width="1"/>
<circle cx="51.50" cy="442.60" r="1.8" fill="#000"/>
<circle cx="68.50" cy="469.26" r="1.8" fill="#000"/>
<circle cx="85.50" cy="474.88" r="1.8" fill="#000"/>
<circle cx="119.50" cy="481.71" r="1.8" fill="#000"/>
<circle cx="153.50" cy="481.71" r="1.8" fill="#000"/>
<circle cx="187.50" cy="478.43" r="1.8" fill="#000"/>
<line x1="198.50" y1="415.50" x2="209.60" y2="415.50" stroke="#b4b4b4" stroke-width="1"/>
<rect x="202.70" y="413.80" width="3.2" height="3.2" fill="#b8b8b8"/>
<line x1="198.50" y1="431.00" x2="209.60" y2="431.00" stroke="#2a2a2a" stroke-width="1.1"/>
<circle cx="204.30" cy="431.00" r="1.8" fill="#000"/>
<text x="213.50" y="418.00" font-size="9.0">F2<tspan dy="-3.2" font-size="5.6">CT;</tspan><tspan dx="2.4" font-size="6.16">+/+</tspan></text>
<text x="213.50" y="433.90" font-size="9.4">F2<tspan dy="-3.2" font-size="6">CA;</tspan><tspan dx="2.4" font-size="6.60">+/+</tspan></text>
<text x="258.20" y="371.60" font-size="9.0" textLength="5.5" lengthAdjust="spacingAndGlyphs" font-family="Liberation Serif" style="stroke-width:0.25px">g.</text>
<text x="270.00" y="391.90" font-size="10.2" textLength="91.8" lengthAdjust="spacingAndGlyphs" >ITT - area under curve</text>
<line x1="300.50" y1="406.10" x2="300.50" y2="513.90" stroke="#1a1a1a" stroke-width="1"/>
<line x1="297.30" y1="513.50" x2="300.50" y2="513.50" stroke="#1a1a1a" stroke-width="1"/>
<text x="296.70" y="516.50" font-size="8.6" text-anchor="end" textLength="4.0" lengthAdjust="spacingAndGlyphs" >0</text>
<line x1="297.30" y1="477.50" x2="300.50" y2="477.50" stroke="#1a1a1a" stroke-width="1"/>
<text x="296.70" y="480.90" font-size="8.6" text-anchor="end" textLength="8.2" lengthAdjust="spacingAndGlyphs" >50</text>
<line x1="297.30" y1="442.50" x2="300.50" y2="442.50" stroke="#1a1a1a" stroke-width="1"/>
<text x="296.70" y="445.30" font-size="8.6" text-anchor="end" textLength="11.5" lengthAdjust="spacingAndGlyphs" >100</text>
<line x1="297.30" y1="406.50" x2="300.50" y2="406.50" stroke="#1a1a1a" stroke-width="1"/>
<text x="296.70" y="409.70" font-size="8.6" text-anchor="end" textLength="10.7" lengthAdjust="spacingAndGlyphs" >150</text>
<rect x="304.70" y="442.70" width="8.40" height="70.20" fill="#d9d9d9" stroke="#4a4a4a" stroke-width="1"/>
<line x1="308.50" y1="436.20" x2="308.50" y2="442.20" stroke="#111" stroke-width="1"/>
<line x1="306.65" y1="436.20" x2="311.15" y2="436.20" stroke="#111" stroke-width="1.2"/>
<rect x="317.00" y="463.13" width="8.40" height="50.27" fill="#000"/>
<line x1="321.50" y1="459.40" x2="321.50" y2="463.13" stroke="#111" stroke-width="1"/>
<line x1="318.95" y1="459.40" x2="323.45" y2="459.40" stroke="#111" stroke-width="1.2"/>
<text x="321.70" y="452.00" font-size="10" text-anchor="middle" >*</text>
<text x="278.50" y="460.00" font-size="7.8" text-anchor="middle" textLength="70.3" lengthAdjust="spacingAndGlyphs" transform="rotate(-90 278.50 460.00)" >% relative to control</text>
<rect x="349.40" y="425.70" width="6.60" height="8.10" fill="#d9d9d9" stroke="#111" stroke-width="1"/>
<rect x="348.90" y="435.90" width="7.60" height="8.60" fill="#000"/>
<text x="359.50" y="431.60" font-size="9.0">F2<tspan dy="-3.2" font-size="5.6">CT;</tspan><tspan dx="2.4" font-size="6.16">+/+</tspan></text>
<text x="359.50" y="442.40" font-size="9.0">F2<tspan dy="-3.2" font-size="5.6">CA;</tspan><tspan dx="2.4" font-size="6.16">+/+</tspan></text>
</svg></body></html>
